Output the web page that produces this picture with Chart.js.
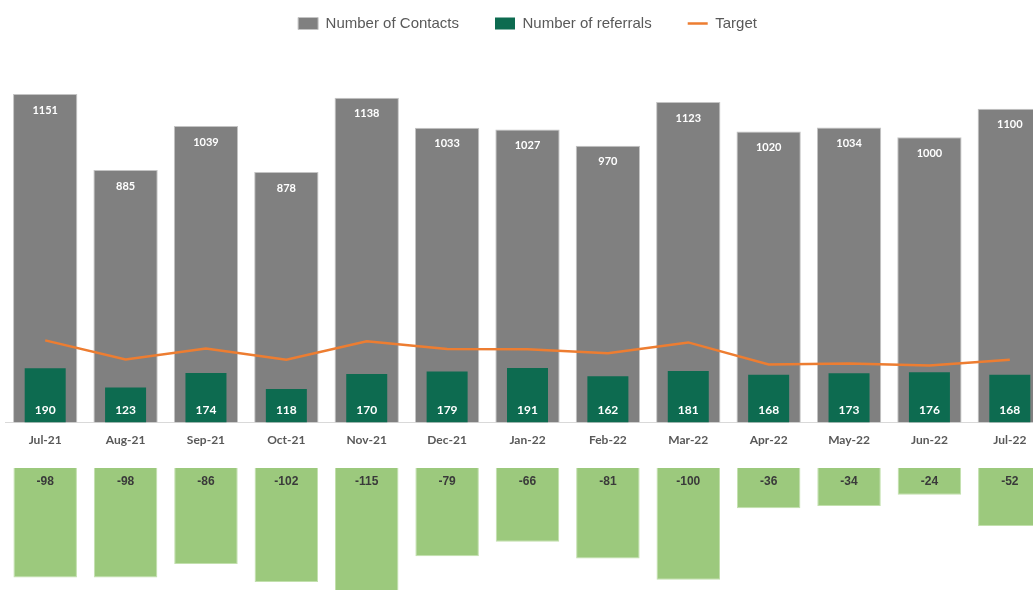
<!DOCTYPE html>
<html>
<head>
<meta charset="utf-8">
<script src="https://cdn.jsdelivr.net/npm/chart.js@4/dist/chart.umd.min.js"></script>
<style>
  html, body { margin: 0; padding: 0; background: #ffffff; overflow: hidden; width: 1033px; height: 590px; }
  #wrap { position: relative; width: 1033px; height: 590px; overflow: hidden; }
  #top { position: absolute; left: 0; top: -20px; }
  #bottom { position: absolute; left: 0; top: 468px; }
</style>
</head>
<body>
<div id="wrap">
  <canvas id="top" width="1060" height="477"></canvas>
  <canvas id="bottom" width="1060" height="134"></canvas>
</div>
<script>
const months = ['Jul-21','Aug-21','Sep-21','Oct-21','Nov-21','Dec-21','Jan-22','Feb-22','Mar-22','Apr-22','May-22','Jun-22','Jul-22'];
const contacts = [1151, 885, 1039, 878, 1138, 1033, 1027, 970, 1123, 1020, 1034, 1000, 1100];
const referrals = [190, 123, 174, 118, 170, 179, 191, 162, 181, 168, 173, 176, 168];
const target = [288, 221, 260, 220, 285, 258, 257, 243, 281, 204, 207, 200, 220];
const variance = [-98, -98, -86, -102, -115, -79, -66, -81, -100, -36, -34, -24, -52];

const labelPlugin = {
  id: 'valueLabels',
  afterDatasetsDraw(chart) {
    const ctx = chart.ctx;
    chart.data.datasets.forEach((ds, i) => {
      if (!ds.valueLabel) return;
      const meta = chart.getDatasetMeta(i);
      const cfg = ds.valueLabel;
      ctx.save();
      ctx.font = cfg.font;
      ctx.fillStyle = cfg.color;
      ctx.textAlign = 'center';
      ctx.textBaseline = 'middle';
      meta.data.forEach((el, j) => {
        let y;
        if (cfg.pos === 'top') y = el.y + cfg.offset;
        else if (cfg.pos === 'base') y = el.base - cfg.offset;
        else y = el.base + cfg.offset;
        ctx.fillText(String(ds.data[j]), el.x, y);
      });
      ctx.restore();
    });
  }
};

new Chart(document.getElementById('top'), {
  type: 'bar',
  data: {
    labels: months,
    datasets: [
      {
        label: 'Number of Contacts',
        data: contacts,
        backgroundColor: '#808080',
        borderColor: '#c4c4c4',
        borderWidth: 1,
        grouped: false,
        categoryPercentage: 1,
        barPercentage: 0.8,
        order: 2,
        pointStyle: 'rect',
        valueLabel: { pos: 'top', offset: 16, font: 'bold 11px Lato', color: '#ffffff' }
      },
      {
        label: 'Number of referrals',
        data: referrals,
        backgroundColor: '#0d6b50',
        borderWidth: 0,
        grouped: false,
        categoryPercentage: 1,
        barPercentage: 0.51,
        order: 1,
        pointStyle: 'rect',
        valueLabel: { pos: 'base', offset: 12, font: 'bold 12px Lato', color: '#ffffff' }
      },
      {
        type: 'line',
        label: 'Target',
        data: target,
        borderColor: '#ed7d31',
        backgroundColor: '#ed7d31',
        borderWidth: 2.5,
        pointRadius: 0,
        pointStyle: 'line',
        tension: 0,
        order: 0
      }
    ]
  },
  options: {
    responsive: false,
    animation: false,
    devicePixelRatio: 1,
    layout: { padding: { left: 5, right: 10, top: 0, bottom: 0 } },
    plugins: {
      legend: {
        position: 'top',
        labels: {
          usePointStyle: true,
          pointStyleWidth: 20,
          boxHeight: 12,
          padding: 36,
          color: '#595959',
          font: { family: 'Liberation Sans', size: 15 },
          sort: (a, b) => a.datasetIndex - b.datasetIndex
        }
      },
      tooltip: { enabled: false }
    },
    scales: {
      x: {
        grid: { display: false, drawTicks: false },
        border: { display: true, color: '#d9d9d9', width: 1 },
        ticks: { padding: 10, color: '#595959', font: { family: 'Lato', size: 12, weight: 'bold' } }
      },
      y: { display: false, min: 0, max: 1337 }
    }
  },
  plugins: [labelPlugin]
});

new Chart(document.getElementById('bottom'), {
  type: 'bar',
  data: {
    labels: months,
    datasets: [
      {
        label: 'Variance',
        data: variance,
        backgroundColor: '#9cc97d',
        borderColor: '#c2e0ad',
        borderWidth: 1,
        categoryPercentage: 1,
        barPercentage: 0.79,
        valueLabel: { pos: 'below', offset: 14, font: 'bold 12px Liberation Sans', color: '#3a3a3a' }
      }
    ]
  },
  options: {
    responsive: false,
    animation: false,
    devicePixelRatio: 1,
    layout: { padding: { left: 5, right: 10, top: 0, bottom: 0 } },
    plugins: { legend: { display: false }, tooltip: { enabled: false } },
    scales: {
      x: { display: false },
      y: { display: false, min: -120, max: 0 }
    }
  },
  plugins: [labelPlugin]
});
</script>
</body>
</html>
